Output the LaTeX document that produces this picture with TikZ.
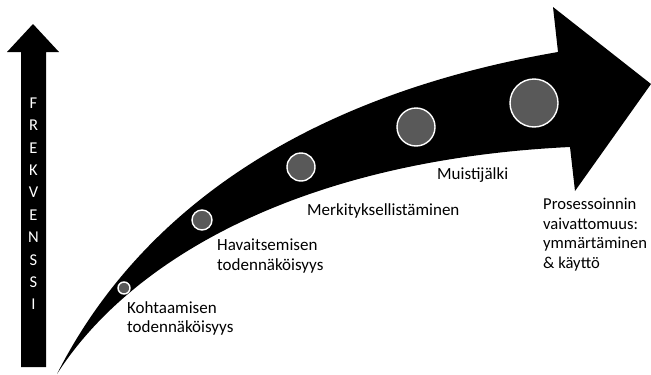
\documentclass[tikz,border=0pt]{standalone}
\usepackage{fontspec}
\setmainfont{Carlito}
\begin{document}
\begin{tikzpicture}[x=1pt,y=-1pt,
  dot/.style={circle,fill=dotgray,draw=white,line width=1.4pt,inner sep=0pt},
  lbl/.style={font=\fontsize{17}{19.5}\selectfont,inner sep=0pt,align=left,anchor=north west},
  vlet/.style={font=\fontsize{16.5}{19.5}\selectfont,text=white,inner sep=0pt}]
\definecolor{dotgray}{HTML}{595959}
\useasboundingbox (0,0) rectangle (651,375);
\fill[white] (0,0) rectangle (651,375);
% vertical arrow
\fill[black] (21,367) -- (21,52) -- (7,52) -- (33,24) -- (59,52) -- (46,52) -- (46,367) -- cycle;
\foreach \l [count=\i from 0] in {F,R,E,K,V,E,N,S,S,I}{
  \node[vlet] (v\i) at (33.5,{103+22.4*\i}) {\l};
}
% curved arrow
\fill[black] (57,374) .. controls (130,230) and (280,100) .. (558,52)
  -- (553,7) -- (651,84) -- (575,191) -- (570,147)
  .. controls (300,160) and (130,260) .. (57,374) -- cycle;
% dots
\node[dot,minimum size=12pt] (c1) at (124,288) {};
\node[dot,minimum size=20pt] (c2) at (202,220) {};
\node[dot,minimum size=28pt] (c3) at (301,167) {};
\node[dot,minimum size=38pt] (c4) at (416,127) {};
\node[dot,minimum size=48pt] (c5) at (534,103) {};
% labels
\node[lbl] (t1) at (127,301) {Kohtaamisen\\todennäköisyys};
\node[lbl] (t2) at (217,239) {Havaitsemisen\\todennäköisyys};
\node[lbl] (t3) at (307,203) {Merkityksellistäminen};
\node[lbl] (t4) at (437,167) {Muistijälki};
\node[lbl,font=\fontsize{16.6}{19.5}\selectfont] (t5) at (543,198) {Prosessoinnin\\vaivattomuus:\\ymmärtäminen\\\& käyttö};
\end{tikzpicture}
\end{document}
